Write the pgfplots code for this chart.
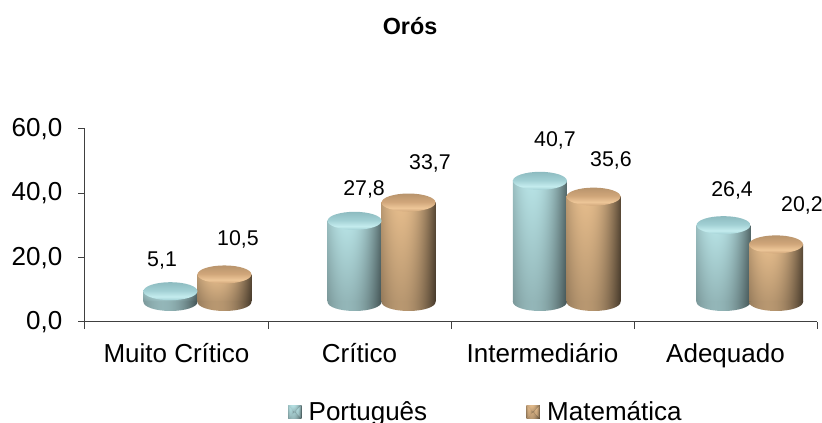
\documentclass[border=0pt]{standalone}
\usepackage{fontspec}
\setmainfont{Liberation Sans}
\usepackage{pgfplots}
\usepackage{pgfplotstable}
\pgfplotsset{compat=1.18}

\definecolor{axisgray}{HTML}{404040}
\definecolor{portA}{HTML}{8DBBC0}
\definecolor{portB}{HTML}{C4ECEE}
\definecolor{portC}{HTML}{A2D0D4}
\definecolor{matA}{HTML}{B8946C}
\definecolor{matB}{HTML}{EDC698}
\definecolor{matC}{HTML}{D0A67A}

% cylinder bodies: stack is x y, visible box is -25..25
\newcommand{\bodyshading}[5]{%
  \pgfdeclarefunctionalshading{#1body}{\pgfpoint{-50bp}{-50bp}}{\pgfpoint{50bp}{50bp}}{}{
    25 add 50 div 0.20 mul 0.80 add
    exch 25 add 50 div 0.35 sub 0.65 div dup mul #5 mul 1 exch sub
    mul
    dup #2 mul exch dup #3 mul exch #4 mul
  }%
  % same colours at the body's lower end, for the foot
  \pgfdeclarefunctionalshading{#1foot}{\pgfpoint{-50bp}{-50bp}}{\pgfpoint{50bp}{50bp}}{}{
    pop 25 add 50 div 0.35 sub 0.65 div dup mul #5 mul 1 exch sub
    0.80 mul
    dup #2 mul exch dup #3 mul exch #4 mul
  }}
\bodyshading{port}{0.72}{0.89}{0.90}{0.55}
\bodyshading{mat}{0.90}{0.74}{0.55}{0.62}

\pgfdeclareverticalshading{portcap}{100bp}{color(0bp)=(portC); color(25bp)=(portC); color(35bp)=(portB); color(52bp)=(portC); color(75bp)=(portA); color(100bp)=(portA)}
\pgfdeclareverticalshading{matcap}{100bp}{color(0bp)=(matC); color(25bp)=(matC); color(35bp)=(matB); color(52bp)=(matC); color(75bp)=(matA); color(100bp)=(matA)}

% ellipse on top of a bar and half ellipse below it (54 x 18 px)
\newcommand{\cylmark}[1]{%
  \pgfdeclareplotmark{#1top}{%
    \pgfpathellipse{\pgfpointorigin}{\pgfqpoint{20.25pt}{0pt}}{\pgfqpoint{0pt}{6.75pt}}%
    \pgfshadepath{#1cap}{0}\pgfusepath{discard}}%
  \pgfdeclareplotmark{#1foot}{%
    \pgfpathmoveto{\pgfqpoint{-20.25pt}{0.4pt}}%
    \pgfpathlineto{\pgfqpoint{-20.25pt}{0pt}}%
    \pgfpatharc{180}{360}{20.25pt and 6.75pt}%
    \pgfpathlineto{\pgfqpoint{20.25pt}{0.4pt}}%
    \pgfpathclose
    \pgfshadepath{#1foot}{0}\pgfusepath{discard}}}
\cylmark{port}
\cylmark{mat}

% value labels, y in px above the cylinder floor
\pgfplotstableread{
x y t
0.421 41 5,1
0.836 63 10,5
1.525 113 27,8
1.885 139 33,7
2.568 162 40,7
2.874 142 35,6
3.536 112 26,4
3.918 97 20,2
}\labeldata

\newcommand{\legsquare}[4]{%
  \fill[#4] (0pt,-5pt) rectangle (10pt,5pt);
  \fill[#1] (0pt,-5pt) -- (5pt,0pt) -- (0pt,5pt) -- cycle;
  \fill[#2] (0pt,5pt) -- (5pt,0pt) -- (10pt,5pt) -- cycle;
  \fill[#3] (10pt,5pt) -- (5pt,0pt) -- (10pt,-5pt) -- cycle;
  \path (13.5pt,0pt);
}

% one cylinder: foot, body, top ellipse. #1 = port or mat, #2 x, #3 value, #4 extra bar options
% the 3D view draws h = 3.1*value-5 px above its floor
\newcommand{\cyl}[4]{%
  \addplot[forget plot,only marks,mark=#1foot,y filter/.expression={0}] coordinates {(#2,#3)};
  \addplot[ybar,bar width=40.5pt,bar shift=0pt,draw=none,shading=#1body,#4,
    y filter/.expression={3.1*y-5}] coordinates {(#2,#3)};
  \addplot[forget plot,only marks,mark=#1top,y filter/.expression={3.1*y-5}] coordinates {(#2,#3)};
}

\begin{document}
\begin{tikzpicture}[x=1pt,y=1pt]
\useasboundingbox (0,0) rectangle (616.5,317.25);
\node[font=\bfseries\fontsize{17.5}{18}\selectfont] at (307.5,297.5) {Orós};

% frame and ticks, 1 px = 0.75 pt
\begin{axis}[
    at={(63.75pt,75.75pt)},
    anchor=south west,
    scale only axis,
    width=549pt,
    height=144.75pt,
    xmin=0, xmax=4,
    ymin=0, ymax=60,
    axis x line=bottom,
    axis y line=left,
    axis line style={axisgray,line width=0.75pt,-},
    tick style={axisgray,line width=0.75pt},
    major tick length=5pt,
    tick align=outside,
    xtick={0,1,2,3,4},
    x tick label as interval,
    xticklabels={Muito Crítico,Crítico,Intermediário,Adequado},
    ytick={0,20,40,60},
    tick label style={font=\fontsize{19.5}{20}\selectfont},
    x tick label style={yshift=-7.5pt},
    y tick label style={xshift=-8.5pt},
    /pgf/number format/assume math mode=true,
    /pgf/number format/.cd,fixed,fixed zerofill,precision=1,use comma,
]
\end{axis}

% cylinders on the raised floor, 1 unit = 1 px above it
\begin{axis}[
    at={(63.75pt,75.75pt)},
    anchor=south west,
    scale only axis,
    width=549pt,
    height=144.75pt,
    xmin=0, xmax=4,
    ymin=-20, ymax=173,
    hide axis,
    clip=false,
    legend columns=2,
    legend style={at={(0.277,-0.466)},anchor=west,draw=none,fill=none,inner sep=0pt,
      font=\fontsize{19.5}{20}\selectfont,
      /tikz/every even column/.style={column sep=72.5pt}},
]
\cyl{port}{0.467}{5.1}{legend image code/.code={\legsquare{portC}{portA!80!white}{portA!55!black}{portA!35!black}}}
\addlegendentry{Português}
\cyl{port}{1.473}{27.8}{forget plot}
\cyl{port}{2.486}{40.7}{forget plot}
\cyl{port}{3.489}{26.4}{forget plot}

\cyl{mat}{0.762}{10.5}{legend image code/.code={\legsquare{matC}{matA!80!white}{matA!55!black}{matA!35!black}}}
\addlegendentry{Matemática}
\cyl{mat}{1.768}{33.7}{forget plot}
\cyl{mat}{2.779}{35.6}{forget plot}
\cyl{mat}{3.776}{20.2}{forget plot}

\addplot[forget plot,only marks,mark=none,
    point meta=explicit symbolic,
    nodes near coords,
    nodes near coords style={anchor=center,inner sep=0pt,font=\fontsize{16}{16}\selectfont}]
    table[x=x,y=y,meta=t] {\labeldata};
\end{axis}
\end{tikzpicture}
\end{document}
